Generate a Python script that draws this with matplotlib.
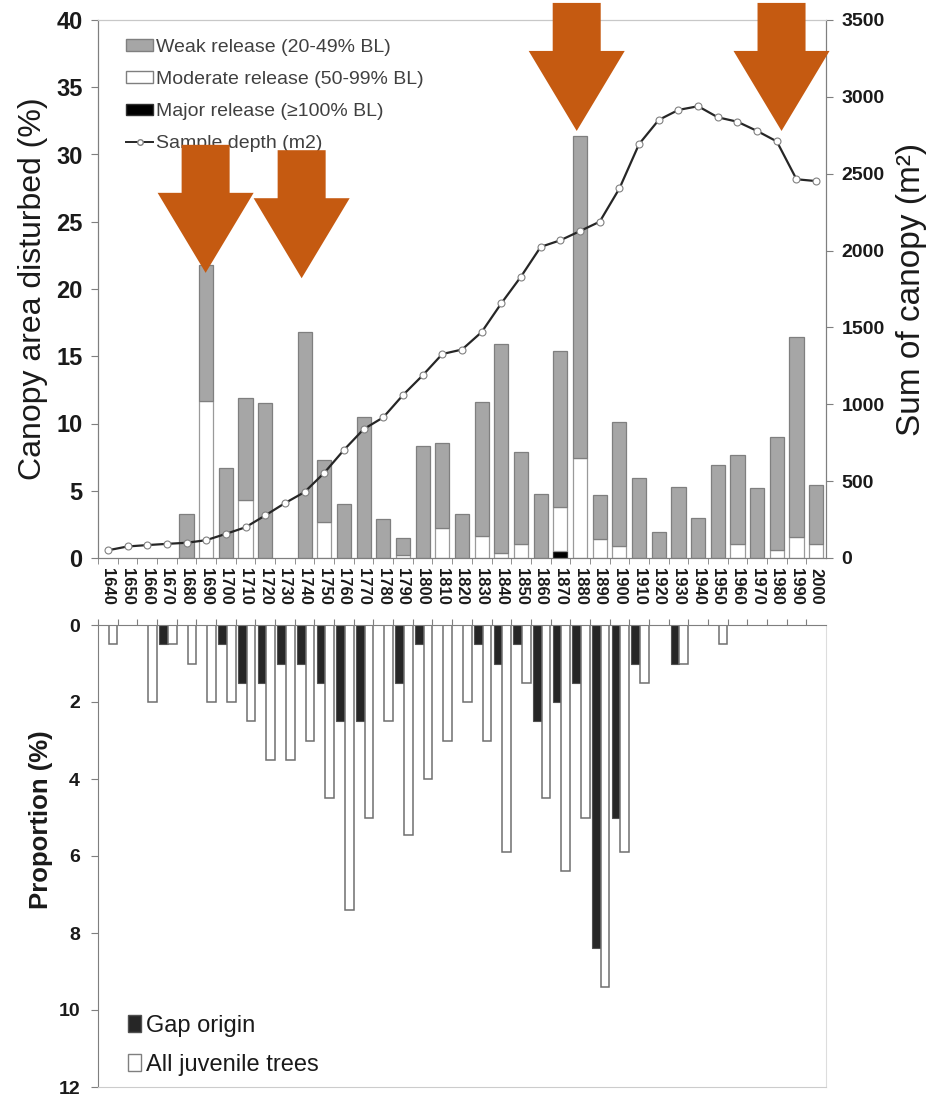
import numpy as np
import matplotlib.pyplot as plt
from matplotlib.patches import Patch, Polygon
from matplotlib.lines import Line2D

plt.rcParams['font.family'] = ['Liberation Sans', 'DejaVu Sans']

# 10-year classes
years = list(range(1640, 2001, 10))

# canopy area disturbed (%) per class, stacked: major at bottom, then moderate, then weak
weak = [0, 0, 0, 0, 3.25, 10.1, 6.7, 7.6, 11.5, 0, 16.8, 4.55, 4.0, 10.5, 2.9, 1.3,
        8.35, 6.35, 3.25, 10.0, 15.5, 6.85, 4.75, 11.6, 23.95, 3.3, 9.2, 5.95, 1.95,
        5.3, 3.0, 6.9, 6.6, 5.2, 8.4, 14.85, 4.35]
moderate = [0, 0, 0, 0, 0, 11.7, 0, 4.3, 0, 0, 0, 2.7, 0, 0, 0, 0.2,
            0, 2.2, 0, 1.6, 0.4, 1.05, 0, 3.3, 7.45, 1.4, 0.9, 0, 0,
            0, 0, 0, 1.05, 0, 0.6, 1.55, 1.05]
major = [0] * 23 + [0.5] + [0] * 13

# sum of canopy of sampled trees (m2)
sample_depth = [50, 75, 84, 92, 99, 116, 157, 200, 277, 357, 429, 554, 703, 838, 915,
                1060, 1188, 1327, 1356, 1470, 1657, 1831, 2024, 2067, 2127, 2188, 2404,
                2693, 2850, 2915, 2939, 2867, 2838, 2778, 2710, 2464, 2452]

# recruitment (%) per class
gap_origin = [0, 0, 0, 0.5, 0, 0, 0.5, 1.5, 1.5, 1.0, 1.0, 1.5, 2.5, 2.5, 0, 1.5,
              0.5, 0, 0, 0.5, 1.0, 0.5, 2.5, 2.0, 1.5, 8.4, 5.0, 1.0, 0, 1.0,
              0, 0, 0, 0, 0, 0, 0]
juvenile = [0.5, 0, 2.0, 0.5, 1.0, 2.0, 2.0, 2.5, 3.5, 3.5, 3.0, 4.5, 7.4, 5.0, 2.5, 5.45,
            4.0, 3.0, 2.0, 3.0, 5.9, 1.5, 4.5, 6.4, 5.0, 9.4, 5.9, 1.5, 0, 1.0,
            0, 0.5, 0, 0, 0, 0, 0]

# highlighted disturbance events (arrow tip: year, canopy %)
arrow_years = [1689.7, 1738.5, 1878.3, 1982.4]
arrow_tips = [21.2, 20.8, 31.75, 31.75]

W, H = 929, 1097
fig = plt.figure(figsize=(W / 100, H / 100), dpi=100)
ax = fig.add_axes([98 / W, 1 - 558 / H, 728 / W, 538 / H])
axb = fig.add_axes([98 / W, 1 - 1087 / H, 728 / W, 462 / H])

x = np.arange(len(years))
weak = np.array(weak)
moderate = np.array(moderate)
major = np.array(major)

grey = '#a6a6a6'
edge = '#7f7f7f'
orange = '#C55A11'
txt = '#1a1a1a'


def stacked(axis, vals, bottom, **kw):
    m = vals > 0
    axis.bar(x[m], vals[m], bottom=bottom[m], width=0.72, linewidth=0.9, **kw)


# --- upper panel: releases + sample depth
stacked(ax, major, np.zeros(len(x)), color='black', edgecolor='#303030')
stacked(ax, moderate, major, color='white', edgecolor='#9a9a9a')
stacked(ax, weak, major + moderate, color=grey, edgecolor=edge)

ax.set_xlim(-0.5, len(years) - 0.5)
ax.set_ylim(0, 40)
ax.set_yticks(range(0, 41, 5))
ax.set_xticks(x)
ax.set_xticklabels([str(y) for y in years], rotation=-90, fontsize=12,
                   fontweight='bold', color=txt)
ax.set_xticks(x - 0.5, minor=True)
ax.tick_params(axis='x', which='major', length=0, pad=7)
ax.tick_params(axis='x', which='minor', length=4, color=edge)
ax.tick_params(axis='y', labelsize=17, length=5, color=edge, pad=6, labelcolor=txt)
for lab in ax.get_yticklabels():
    lab.set_fontweight('bold')
ax.set_ylabel('Canopy area disturbed (%)', fontsize=23, color=txt, labelpad=6)

ax2 = ax.twinx()
ax2.plot(x, sample_depth, '-o', color='#262626', lw=1.6, ms=5,
         mfc='white', mec='#808080', mew=0.8, zorder=3)
ax2.set_ylim(0, 3500)
ax2.set_yticks(range(0, 3501, 500))
ax2.tick_params(axis='y', labelsize=14, length=5, color=edge, pad=6, labelcolor=txt)
for lab in ax2.get_yticklabels():
    lab.set_fontweight('bold')
ax2.set_ylabel('Sum of canopy (m²)', fontsize=24, color=txt, labelpad=8)

for a in (ax, ax2):
    a.spines['left'].set_color(edge)
    a.spines['right'].set_color(edge)
    a.spines['bottom'].set_color(edge)
    a.spines['top'].set_color('#c8c8c8')
    a.spines['top'].set_linewidth(0.8)

handles = [
    Patch(facecolor=grey, edgecolor=edge, label='Weak release (20-49% BL)'),
    Patch(facecolor='white', edgecolor=edge, label='Moderate release (50-99% BL)'),
    Patch(facecolor='black', edgecolor='#303030', label='Major release (≥100% BL)'),
    Line2D([0], [0], color='#262626', lw=1.4, marker='o', ms=4, mfc='white',
           mec='#808080', label='Sample depth (m2)'),
]
ax2.legend(handles=handles, loc='upper left', bbox_to_anchor=(0.02, 0.99),
           frameon=False, fontsize=14, handlelength=1.4, handleheight=0.55,
           handletextpad=0.15, labelspacing=0.78, labelcolor='#404040',
           borderaxespad=0.3)

# arrows marking the main disturbance periods
hw, sw, hh, sh = 2.44, 1.22, 5.95, 3.57
for yr, tip in zip(arrow_years, arrow_tips):
    tx = (yr - years[0]) / 10
    verts = [(tx, tip), (tx - hw, tip + hh), (tx - sw, tip + hh), (tx - sw, tip + hh + sh),
             (tx + sw, tip + hh + sh), (tx + sw, tip + hh), (tx + hw, tip + hh)]
    fig.add_artist(Polygon(verts, closed=True, transform=ax.transData,
                           facecolor=orange, edgecolor='none', zorder=10))

# --- lower panel: recruitment
gap_origin = np.array(gap_origin)
juvenile = np.array(juvenile)
m = gap_origin > 0
axb.bar(x[m] - 0.17, gap_origin[m], width=0.44, color='#262626', edgecolor='#505050',
        linewidth=0.8)
m = juvenile > 0
axb.bar(x[m] + 0.27, juvenile[m], width=0.44, color='white', edgecolor='#6f6f6f',
        linewidth=1.1)

axb.set_xlim(-0.5, len(years) - 0.5)
axb.set_ylim(12, 0)
axb.set_yticks(range(0, 13, 2))
axb.xaxis.tick_top()
axb.set_xticks(x - 0.5)
axb.set_xticklabels([])
axb.tick_params(axis='x', length=4, color=edge)
axb.tick_params(axis='y', labelsize=14, length=5, color=edge, pad=8, labelcolor=txt)
for lab in axb.get_yticklabels():
    lab.set_fontweight('bold')
axb.set_ylabel('Proportion (%)', fontsize=18.5, fontweight='bold', color=txt)
axb.yaxis.set_label_coords(-0.062, 0.578)
axb.spines['left'].set_color(edge)
axb.spines['top'].set_color(edge)
axb.spines['right'].set_color('#dddddd')
axb.spines['bottom'].set_color('#cccccc')

axb.legend(handles=[Patch(facecolor='#262626', edgecolor='#505050', label='Gap origin'),
                    Patch(facecolor='white', edgecolor=edge, label='All juvenile trees')],
           loc='lower left', bbox_to_anchor=(0.012, -0.022), frameon=False, fontsize=17,
           handlelength=0.55, handleheight=0.7, handletextpad=0.2, labelspacing=0.72,
           labelcolor=txt)

fig.savefig('out.png', dpi=100, facecolor='white')
